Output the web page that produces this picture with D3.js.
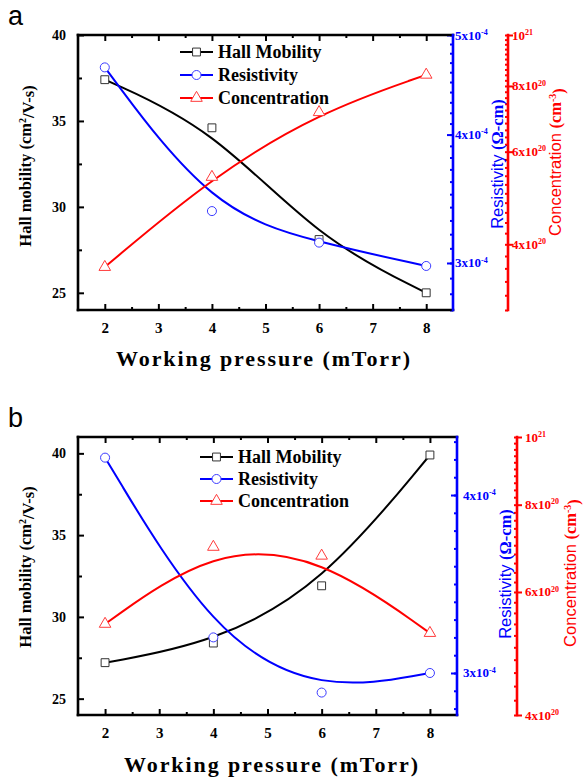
<!DOCTYPE html>
<html>
<head>
<meta charset="utf-8">
<script src="https://cdn.jsdelivr.net/npm/d3@7"></script>
<style>
  body { margin: 0; background: #fff; }
  svg { display: block; }
</style>
</head>
<body>
<script>
// Working pressure (mTorr) for each deposited film
const pressure = [2, 4, 6, 8];

// Panel a
const mobilityA = [37.4, 34.6, 28.1, 25.0];            // cm^2/V-s
const resistivityA = [4.65e-4, 3.37e-4, 3.14e-4, 2.98e-4]; // ohm-cm
const concentrationA = [3.62e20, 5.37e20, 7.13e20, 8.4e20]; // cm^-3

// Panel b
const mobilityB = [27.2, 28.4, 31.9, 39.9];
const resistivityB = [4.21e-4, 3.2e-4, 2.89e-4, 3.0e-4];
const concentrationB = [5.4e20, 6.96e20, 6.76e20, 5.24e20];

// Tick values
const pressureTicks = [2, 3, 4, 5, 6, 7, 8];
const mobilityTicks = [25, 30, 35, 40];
const resistivityTicksA = [3e-4, 4e-4, 5e-4];
const resistivityTicksB = [3e-4, 4e-4];
const concentrationTicks = [4e20, 6e20, 8e20, 1e21];

const seriesNames = ["Hall Mobility", "Resistivity", "Concentration"];
const seriesColors = ["#000000", "#0000ff", "#ff0000"];
const markerColors = ["#333333", "#3b3bff", "#ff3b3b"];

const SERIF = "'Liberation Serif','Times New Roman',serif";
const SANS = "'Liberation Sans',Arial,sans-serif";

const svg = d3.select("body").append("svg")
  .attr("width", 583).attr("height", 781);

// mantissa x 10^exponent, written with a raised exponent
function sciLabel(sel, v, supSize) {
  const e = Math.floor(Math.log10(v) + 1e-9);
  const m = Math.round(v / Math.pow(10, e));
  sel.append("tspan").text(m === 1 ? "10" : m + "x10");
  sel.append("tspan").attr("dy", "-0.6em").attr("font-size", supSize).text(e);
}

const markerTypes = [d3.symbolSquare, d3.symbolCircle, d3.symbolTriangle];
const markerSizes = [62, 64, 58];

function marker(g, type, cx, cy) {
  g.append("path")
    .attr("d", d3.symbol().type(markerTypes[type]).size(markerSizes[type])())
    .attr("transform", `translate(${cx},${cy})`)
    .attr("fill", "#fff")
    .attr("stroke", markerColors[type])
    .attr("stroke-width", 1);
}

function drawPanel(p) {
  const g = svg.append("g");
  const x = d3.scaleLinear().domain([1.5, 8.5]).range([p.left, p.right]);
  const y = d3.scaleLinear().domain(p.mobDomain).range([p.bottom, p.top]);
  const yRes = (p.resLog ? d3.scaleLog() : d3.scaleLinear())
    .domain(p.resDomain).range([p.bottom, p.top]);
  const yCon = d3.scaleLog().domain(p.conDomain).range([p.bottom, p.top]);

  const tidy = sel => {
    sel.select(".domain").remove();
    sel.selectAll(".tick line").attr("stroke-width", 2);
  };

  // bottom axis
  const bx = g.append("g").attr("transform", `translate(0,${p.bottom})`)
    .call(d3.axisBottom(x).tickValues(pressureTicks).tickSize(-6).tickPadding(12)
      .tickFormat(d3.format("d")));
  tidy(bx);
  bx.selectAll("text").attr("font-family", SERIF).attr("font-weight", "bold")
    .attr("font-size", 15).attr("fill", "#000");
  tidy(g.append("g").attr("transform", `translate(0,${p.bottom})`)
    .call(d3.axisBottom(x).tickValues(d3.range(2.5, 8, 1)).tickSize(-3).tickFormat("")));

  // top axis
  tidy(g.append("g").attr("transform", `translate(0,${p.top})`)
    .call(d3.axisTop(x).tickValues(pressureTicks).tickSize(-6).tickFormat("")));
  tidy(g.append("g").attr("transform", `translate(0,${p.top})`)
    .call(d3.axisTop(x).tickValues(d3.range(2.5, 8, 1)).tickSize(-3).tickFormat("")));

  // left axis
  const ly = g.append("g").attr("transform", `translate(${p.left},0)`)
    .call(d3.axisLeft(y).tickValues(mobilityTicks).tickSize(-6).tickPadding(12)
      .tickFormat(d3.format("d")));
  tidy(ly);
  ly.selectAll("text").attr("font-family", SERIF).attr("font-weight", "bold")
    .attr("font-size", 14).attr("fill", "#000");
  tidy(g.append("g").attr("transform", `translate(${p.left},0)`)
    .call(d3.axisLeft(y).tickValues([27.5, 32.5, 37.5]).tickSize(-4).tickFormat("")));

  // resistivity axis
  const ra = g.append("g").attr("transform", `translate(${p.right},0)`)
    .call(d3.axisRight(yRes).tickValues(p.resTicks).tickSize(-6).tickFormat(""));
  tidy(ra);
  ra.selectAll("line").attr("stroke", "#0000ff");
  const ram = g.append("g").attr("transform", `translate(${p.right},0)`)
    .call(d3.axisRight(yRes).tickValues(p.resMinor).tickSize(-3).tickFormat(""));
  tidy(ram);
  ram.selectAll("line").attr("stroke", "#0000ff");
  p.resTicks.forEach(v => {
    const t = g.append("text").attr("x", p.right + p.resLabelGap).attr("y", yRes(v) + 4.5)
      .attr("font-family", SERIF).attr("font-weight", "bold").attr("font-size", 13)
      .attr("fill", "#0000ff");
    sciLabel(t, v, 8);
  });

  // concentration axis
  const ca = g.append("g").attr("transform", `translate(${p.redX},0)`)
    .call(d3.axisRight(yCon).tickValues(concentrationTicks).tickSize(5).tickFormat(""));
  tidy(ca);
  ca.selectAll("line").attr("stroke", "#ff0000");
  const cam = g.append("g").attr("transform", `translate(${p.redX},0)`)
    .call(d3.axisRight(yCon).tickValues(p.conMinor).tickSize(-3).tickFormat(""));
  tidy(cam);
  cam.selectAll("line").attr("stroke", "#ff0000");
  concentrationTicks.forEach(v => {
    const t = g.append("text").attr("x", p.redX + p.conLabelGap).attr("y", yCon(v) + 4.5)
      .attr("font-family", SERIF).attr("font-weight", "bold").attr("font-size", 13)
      .attr("fill", "#ff0000");
    sciLabel(t, v, 8);
  });

  // frame lines
  const frame = (x1, y1, x2, y2, c) => g.append("line")
    .attr("x1", x1).attr("y1", y1).attr("x2", x2).attr("y2", y2)
    .attr("stroke", c).attr("stroke-width", 2.6).attr("stroke-linecap", "square");
  frame(p.left, p.top, p.right, p.top, "#000");
  frame(p.left, p.bottom, p.right, p.bottom, "#000");
  frame(p.left, p.top, p.left, p.bottom, "#000");
  frame(p.right, p.top, p.right, p.bottom, "#0000ff");
  frame(p.redX, p.top, p.redX, p.bottom, "#ff0000");

  // series
  const series = [
    { vals: p.mobility, sc: y },
    { vals: p.resistivity, sc: yRes },
    { vals: p.concentration, sc: yCon }
  ];
  series.forEach((s, i) => {
    const pts = pressure.map((px, j) => [x(px), s.sc(s.vals[j])]);
    g.append("path").attr("d", d3.line().curve(d3.curveBasis)(pts))
      .attr("fill", "none").attr("stroke", seriesColors[i]).attr("stroke-width", 2);
  });
  series.forEach((s, i) => {
    pressure.forEach((px, j) => marker(g, i, x(px), s.sc(s.vals[j])));
  });

  // legend
  seriesNames.forEach((name, i) => {
    const ry = p.legend.rows[i];
    g.append("line").attr("x1", p.legend.x0).attr("x2", p.legend.x1)
      .attr("y1", ry).attr("y2", ry).attr("stroke", seriesColors[i]).attr("stroke-width", 2);
    marker(g, i, (p.legend.x0 + p.legend.x1) / 2, ry);
    g.append("text").attr("x", p.legend.tx).attr("y", ry + 6)
      .attr("font-family", SERIF).attr("font-weight", "bold").attr("font-size", 18)
      .text(name);
  });

  // axis titles
  g.append("text").attr("x", p.xTitle[0]).attr("y", p.xTitle[1])
    .attr("text-anchor", "middle").attr("font-family", SERIF).attr("font-weight", "bold")
    .attr("font-size", 22).attr("letter-spacing", 1.9).text("Working pressure (mTorr)");

  const yt = g.append("text").attr("transform", `translate(${p.yTitle[0]},${p.yTitle[1]}) rotate(-90)`)
    .attr("text-anchor", "middle").attr("dy", "0.35em")
    .attr("font-family", SERIF).attr("font-weight", "bold").attr("font-size", 16.5);
  yt.append("tspan").text("Hall mobility (cm");
  yt.append("tspan").attr("dy", "-0.5em").attr("font-size", 10).text("2");
  yt.append("tspan").attr("dy", "0.5em").text("/V-s)");

  const rt = g.append("text").attr("transform", `translate(${p.resTitle[0]},${p.resTitle[1]}) rotate(-90)`)
    .attr("text-anchor", "middle").attr("dy", "0.35em").attr("fill", "#0000ff").attr("font-size", 16.5);
  rt.append("tspan").attr("font-family", SANS).text("Resistivity ");
  rt.append("tspan").attr("font-family", SERIF).attr("font-weight", "bold").text("(\u03A9-cm)");

  const ct = g.append("text").attr("transform", `translate(${p.conTitle[0]},${p.conTitle[1]}) rotate(-90)`)
    .attr("text-anchor", "middle").attr("dy", "0.35em").attr("fill", "#ff0000").attr("font-size", 16.5);
  ct.append("tspan").attr("font-family", SANS).text("Concentration ");
  ct.append("tspan").attr("font-family", SERIF).attr("font-weight", "bold").text("(cm");
  ct.append("tspan").attr("font-family", SERIF).attr("font-weight", "bold")
    .attr("dy", "-0.5em").attr("font-size", 10).text("-3");
  ct.append("tspan").attr("font-family", SERIF).attr("font-weight", "bold")
    .attr("dy", "0.5em").text(")");

  // panel letter
  g.append("text").attr("x", 8).attr("y", p.letterY)
    .attr("font-family", SANS).attr("font-size", 27).text(p.letter);
}

drawPanel({
  letter: "a", letterY: 25,
  left: 78, right: 453, top: 35, bottom: 310, redX: 508,
  mobDomain: [24, 40],
  resLog: true, resDomain: [2.7e-4, 5e-4], resTicks: resistivityTicksA,
  resMinor: d3.range(27, 51).map(v => v * 1e-5), resLabelGap: 2,
  conDomain: [3e20, 1e21], conMinor: d3.range(15, 51).map(v => v * 2e19), conLabelGap: 4,
  mobility: mobilityA, resistivity: resistivityA, concentration: concentrationA,
  legend: { x0: 180, x1: 213, tx: 218, rows: [52, 75, 98] },
  xTitle: [264, 366], yTitle: [25, 166], resTitle: [497, 164], conTitle: [555, 162]
});

drawPanel({
  letter: "b", letterY: 427,
  left: 78, right: 457, top: 437, bottom: 715, redX: 517,
  mobDomain: [24, 41],
  resLog: false, resDomain: [2.764e-4, 4.326e-4], resTicks: resistivityTicksB,
  resMinor: d3.range(28, 44).map(v => v * 1e-5), resLabelGap: 6,
  conDomain: [4e20, 1e21], conMinor: d3.range(20, 51).map(v => v * 2e19), conLabelGap: 8,
  mobility: mobilityB, resistivity: resistivityB, concentration: concentrationB,
  legend: { x0: 200, x1: 233, tx: 238, rows: [457, 479, 501] },
  xTitle: [272, 772], yTitle: [25, 567], resTitle: [505, 574], conTitle: [570, 573]
});
</script>
</body>
</html>
